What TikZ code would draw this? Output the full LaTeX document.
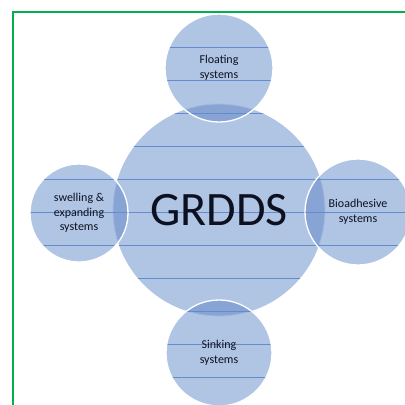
\documentclass[tikz,border=0pt]{standalone}
\usepackage{fontspec}
\setmainfont{Carlito}
\usetikzlibrary{positioning}

\definecolor{framegreen}{RGB}{0,176,80}
\definecolor{bubblefill}{RGB}{176,197,228}
\definecolor{lensfill}{RGB}{136,164,213}
\definecolor{rulecol}{RGB}{98,140,206}
\definecolor{textnavy}{RGB}{12,16,32}

\begin{document}
\begin{tikzpicture}[x=1pt, y=-1pt,
    rule/.style={draw=rulecol, line width=0.6pt},
    ruled/.style={path picture={
        \foreach \ri in {1,...,11} \draw[rule] (rule\ri w) -- (rule\ri e);}},
    bubble/.style={circle, fill=bubblefill, inner sep=0pt, align=center,
        text=textnavy, font=\fontsize{12}{14.5}\selectfont},
    hub/.style={bubble, minimum size=212pt, ruled, font=\fontsize{48}{52}\selectfont},
    satellite/.style={bubble, path picture={
        \fill[lensfill] (grdds.center) circle[radius=106];
        \draw[rulecol!60, line width=0.8pt] (grdds.center) circle[radius=106];
        \foreach \ri in {1,...,11} \draw[rule] (rule\ri w) -- (rule\ri e);},
        postaction={draw=white, line width=1.3pt}}
]
    \useasboundingbox (0,0) rectangle (405,405);

    % green frame, open to the right and bottom
    \draw[framegreen, line width=1.6pt] (13,405) |- (405,12);

    % ruled lines of the paper
    \foreach \ry [count=\ri] in {47,80,113,146,179,212,245,278,311,344,377} {
        \coordinate (rule\ri w) at (0,\ry);
        \coordinate (rule\ri e) at (405,\ry);
    }

    % central circle
    \node[hub] (grdds) at (219,210) {GRDDS};

    % satellites
    \node[satellite, minimum size=108pt] (floating) at (219,68) {Floating\\systems};
    \node[satellite, minimum size=98pt] (swelling) at (79,213) {swelling \&\\expanding\\systems};
    \node[satellite, minimum size=106pt] (bioadhesive) at (358,212) {Bioadhesive\\systems};
    \node[satellite, minimum size=106pt] (sinking) at (219,353) {Sinking\\systems};
\end{tikzpicture}
\end{document}
